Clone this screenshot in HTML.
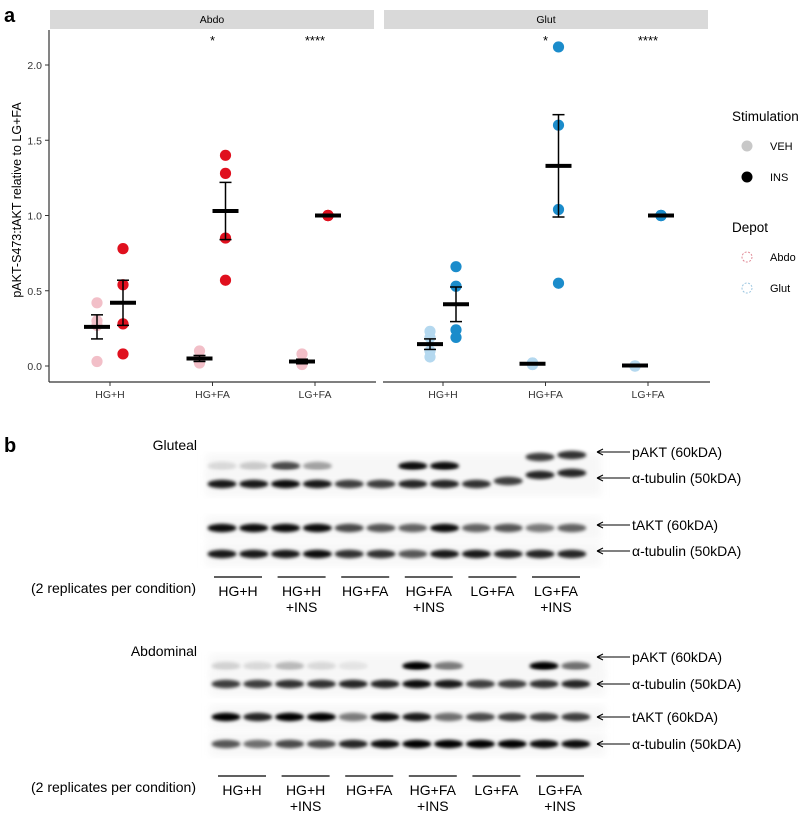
<!DOCTYPE html>
<html><head><meta charset="utf-8"><style>
body{margin:0;background:#fff}
svg{display:block;font-family:"Liberation Sans",Arial,sans-serif}
</style></head><body>
<svg id="fig" width="800" height="814" viewBox="0 0 800 814">
<defs><filter id="bl" x="-50%" y="-100%" width="200%" height="300%"><feGaussianBlur stdDeviation="1.6"/></filter>
<filter id="bg" x="-10%" y="-10%" width="120%" height="120%"><feGaussianBlur stdDeviation="4"/></filter></defs>
<text x="4" y="22" font-size="20" font-weight="bold">a</text>
<text x="4" y="452" font-size="20" font-weight="bold">b</text>
<g id="chart"></g>
<g id="legend">
<text x="732" y="121" font-size="13.5">Stimulation</text>
<circle cx="747" cy="146" r="5.5" fill="#c8c8c8"/>
<text x="770" y="150" font-size="11">VEH</text>
<circle cx="747" cy="177" r="5.5" fill="#000"/>
<text x="770" y="181" font-size="11">INS</text>
<text x="732" y="232" font-size="13.5">Depot</text>
<circle cx="747" cy="257" r="5" fill="none" stroke="#e08a96" stroke-dasharray="2,1.5"/>
<text x="770" y="261" font-size="11">Abdo</text>
<circle cx="747" cy="288" r="5" fill="none" stroke="#9cc6e0" stroke-dasharray="2,1.5"/>
<text x="770" y="292" font-size="11">Glut</text>
</g>
<g id="blots"></g>
</svg>
<script>
const NS='http://www.w3.org/2000/svg';
function mk(p,t,a){const e=document.createElementNS(NS,t);for(const k in a)e.setAttribute(k,a[k]);p.appendChild(e);return e;}
// ---- chart data ----
const categories=['HG+H','HG+FA','LG+FA'];
const yTicks=[0.0,0.5,1.0,1.5,2.0];
const abdoVeh=[[0.42,0.30,0.27,0.03],[0.10,0.05,0.03,0.02],[0.08,0.03,0.02,0.01]];
const abdoIns=[[0.78,0.54,0.28,0.08],[1.40,1.28,0.85,0.57],[1.0,1.0,1.0,1.0]];
const glutVeh=[[0.23,0.19,0.10,0.06],[0.02,0.02,0.01,0.01],[0.0,0.0,0.0,0.0]];
const glutIns=[[0.66,0.53,0.24,0.19],[2.12,1.60,1.04,0.55],[1.0,1.0,1.0,1.0]];
const abdoVehMean=[0.26,0.05,0.03], abdoVehSE=[0.08,0.02,0.015];
const abdoInsMean=[0.42,1.03,1.0], abdoInsSE=[0.15,0.19,0.0];
const glutVehMean=[0.145,0.015,0.003], glutVehSE=[0.035,0.005,0.002];
const glutInsMean=[0.41,1.33,1.0], glutInsSE=[0.115,0.34,0.0];
const sig=['','*','****'];
const y=v=>366-150.5*v;
const panels=[{name:'Abdo',x0:50,cx:110,veh:abdoVeh,ins:abdoIns,vm:abdoVehMean,vs:abdoVehSE,im:abdoInsMean,is:abdoInsSE,cv:'#f2bfc8',ci:'#e0101e'},
{name:'Glut',x0:384,cx:443,veh:glutVeh,ins:glutIns,vm:glutVehMean,vs:glutVehSE,im:glutInsMean,is:glutInsSE,cv:'#b4d8ef',ci:'#1b8ccb'}];
const C=document.getElementById('chart');
const ya=mk(C,'line',{x1:49,y1:30,x2:49,y2:382,stroke:'#333','stroke-width':1.2});

yTicks.forEach(t=>{mk(C,'line',{x1:45,x2:49,y1:y(t),y2:y(t),stroke:'#333'});
 const tx=mk(C,'text',{x:42,y:y(t)+4,'font-size':10.5,'text-anchor':'end',fill:'#333'});tx.textContent=t.toFixed(1);
 });
const yt=mk(C,'text',{x:0,y:0,'font-size':12.5,'text-anchor':'middle',transform:'translate(21,200) rotate(-90)'});
yt.textContent='pAKT-S473:tAKT relative to LG+FA';

panels.forEach(P=>{
 const g=mk(C,'g',{});
 const s=mk(g,'rect',{x:P.x0,y:10,width:324,height:19,fill:'#d9d9d9'});
 const st=mk(g,'text',{x:P.x0+162,y:23,'font-size':10.5,'text-anchor':'middle'});st.textContent=P.name;
 
 const xa=mk(g,'line',{x1:P.x0-1,x2:P.x0+326,y1:382,y2:382,stroke:'#333','stroke-width':1.2});
 
 categories.forEach((c,i)=>{const cx=P.cx+i*102.5;
  mk(g,'line',{x1:cx,x2:cx,y1:382,y2:386,stroke:'#333'});
  const lt=mk(g,'text',{x:cx,y:398,'font-size':10.5,'text-anchor':'middle',fill:'#333'});lt.textContent=c;
  
  if(sig[i]){const sg=mk(g,'text',{x:cx,y:45,'font-size':13,'text-anchor':'middle'});sg.textContent=sig[i];
   }
  [[P.veh[i],P.vm[i],P.vs[i],P.cv,-13],[P.ins[i],P.im[i],P.is[i],P.ci,13]].forEach(([pts,m,se,col,off])=>{
   const x=cx+off;
   pts.forEach(v=>{const d=mk(g,'circle',{cx:x,cy:y(v),r:5.6,fill:col});
    });
   if(se>0){mk(g,'line',{x1:x,x2:x,y1:y(m+se),y2:y(m-se),stroke:'#000','stroke-width':1.5});
    [m+se,m-se].forEach(v=>mk(g,'line',{x1:x-6,x2:x+6,y1:y(v),y2:y(v),stroke:'#000','stroke-width':1.5}));}
   const mb=mk(g,'line',{x1:x-13,x2:x+13,y1:y(m),y2:y(m),stroke:'#000','stroke-width':4});
   
  });
 });
});
// ---- blots ----
const B=document.getElementById('blots');
const groups=['HG+H','HG+H','HG+FA','HG+FA','LG+FA','LG+FA'];
const groupSub=['','+INS','','+INS','','+INS'];
const gP=[.12,.18,.7,.35,0,0,.95,.95,0,0,.75,.8];
const gT=[.9,.9,.95,.9,.75,.75,.85,.85,.8,.75,.85,.85];
const gA=[.95,.95,.95,.95,.7,.65,.6,.95,.6,.65,.5,.6];
const gT2=[.9,.9,.9,.95,.8,.8,.65,.9,.9,.85,.85,.85];
const aP=[.15,.12,.25,.12,.08,0,1,.5,0,0,1,.55];
const aT=[.75,.75,.8,.8,.85,.85,.95,.9,.75,.75,.8,.85];
const aA=[1,.85,1,1,.5,.95,.9,.55,.7,.75,.75,.75];
const aT2=[.65,.55,.7,.7,.85,.95,1,1,1,1,.95,.95];
function blot(set){
 const g=mk(B,'g',{});
 const lb=mk(g,'text',{x:197,y:set.labY,'font-size':14,'text-anchor':'end'});lb.textContent=set.label;
 
 set.rows.forEach(r=>{
  mk(g,'rect',{x:set.x0-6,y:r.y-12,width:395,height:24,fill:'#f7f7f7',filter:'url(#bg)'});
  r.vals.forEach((v,i)=>{ if(v<=0)return; const cx=set.x0+10+i*31.8;
   const yy=r.y+(r.shift?r.shift[i]:0);
   const e=mk(g,'ellipse',{cx:cx,cy:yy,rx:14.5,ry:4.2,fill:'#000','fill-opacity':v,filter:'url(#bl)'});
   });
 });
 set.arrows.forEach(a=>{
  mk(g,'line',{x1:597,x2:630,y1:a.y,y2:a.y,stroke:'#000','stroke-width':1});
  mk(g,'path',{d:`M597 ${a.y} l6 -3 M597 ${a.y} l6 3`,stroke:'#000',fill:'none'});
  const t=mk(g,'text',{x:632,y:a.y+5,'font-size':14});t.textContent=a.t;
  });
 const rp=mk(g,'text',{x:196,y:set.lineY+16,'font-size':14,'text-anchor':'end'});rp.textContent='(2 replicates per condition)';
 
 groups.forEach((gn,i)=>{const cx=set.x0+26+i*63.6;
  mk(g,'line',{x1:cx-24,x2:cx+24,y1:set.lineY,y2:set.lineY,stroke:'#000','stroke-width':1.3});
  const t=mk(g,'text',{x:cx,y:set.lineY+19,'font-size':14,'text-anchor':'middle'});t.textContent=gn;
  
  if(groupSub[i]){const t2=mk(g,'text',{x:cx,y:set.lineY+35,'font-size':14,'text-anchor':'middle'});t2.textContent=groupSub[i];
   }
 });
}
const sh=[0,0,0,0,0,0,0,0,0,-3,-9,-11];
blot({name:'gluteal-blot',label:'Gluteal',labY:450,x0:212,lineY:577,
 rows:[{y:466,vals:gP,shift:sh},{y:484,vals:gT,shift:sh},{y:528,vals:gA},{y:554,vals:gT2}],
 arrows:[{y:452,t:'pAKT (60kDA)'},{y:478,t:'α-tubulin (50kDA)'},{y:525,t:'tAKT (60kDA)'},{y:551,t:'α-tubulin (50kDA)'}]});
blot({name:'abdominal-blot',label:'Abdominal',labY:656,x0:216,lineY:776,
 rows:[{y:666,vals:aP},{y:684,vals:aT},{y:717,vals:aA},{y:744,vals:aT2}],
 arrows:[{y:657,t:'pAKT (60kDA)'},{y:684,t:'α-tubulin (50kDA)'},{y:717,t:'tAKT (60kDA)'},{y:744,t:'α-tubulin (50kDA)'}]});
</script>
</body></html>
